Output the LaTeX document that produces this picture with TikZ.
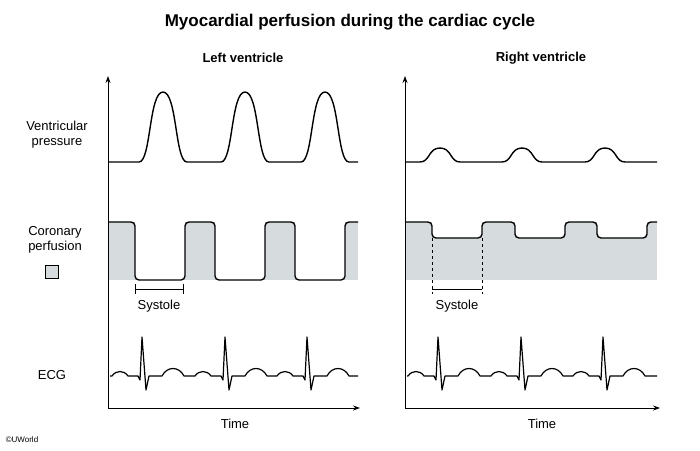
\documentclass[tikz,border=0pt]{standalone}
\usepackage{fontspec}
\setmainfont{Liberation Sans}
\usepackage{xcolor}
\definecolor{perf}{RGB}{214,219,222}
\tikzset{
  curve/.style = {line width = 1.4pt, line join = round},
  axis/.style = {line width = 1pt, -{Stealth[length=7pt,width=5pt]}},
  lbl/.style = {font = \fontsize{13}{15}\selectfont, align = center},
}
\usetikzlibrary{arrows.meta}
\newcommand{\bump}[3]{% center, half width, height
  (#1-#2,162) .. controls (#1-#2/2,162) and (#1-#2/1.7,162-#3) .. (#1,162-#3)
  .. controls (#1+#2/1.7,162-#3) and (#1+#2/2,162) .. (#1+#2,162)}
\newcommand{\ecgbeat}[1]{%
  -- (#1-30,376) .. controls (#1-26,370) and (#1-18,370) .. (#1-14,376)
  -- (#1-4,376) -- (#1-2,380) -- (#1,337) -- (#1+4,390) -- (#1+7,376)
  -- (#1+20,376) .. controls (#1+25,366) and (#1+37,366) .. (#1+42,376)}

\begin{document}
\begin{tikzpicture}[x = 1pt, y = -1pt]

    \useasboundingbox (0,0) rectangle (700,450);

    \node[font = \fontsize{17}{20}\selectfont\bfseries] (title) at (350,22)
        {Myocardial perfusion during the cardiac cycle};
    \node[lbl, font = \fontsize{13}{15}\selectfont\bfseries] (lv) at (243,58) {Left ventricle};
    \node[lbl, font = \fontsize{13}{15}\selectfont\bfseries] (rv) at (541,58) {Right ventricle};

    \node[lbl] (press) at (57,135) {Ventricular\\pressure};
    \node[lbl] (perfl) at (55,240) {Coronary\\perfusion};
    \node[draw, line width = 1pt, fill = perf, minimum size = 13pt, inner sep = 0pt] (key) at (52,272) {};
    \node[lbl] (ecg) at (52,375) {ECG};
    \node[font = \fontsize{8}{9}\selectfont] (copy) at (22,440) {\textcopyright UWorld};

    % Perfusion areas
    \fill[perf] (108,222) rectangle (358,280);
    \fill[perf] (405,222) rectangle (657,280);
    \fill[white, rounded corners = 4pt] (135,218) -- (135,280) -- (185,280) -- (185,218);
    \fill[white, rounded corners = 4pt] (215,218) -- (215,280) -- (265,280) -- (265,218);
    \fill[white, rounded corners = 4pt] (295,218) -- (295,280) -- (345,280) -- (345,218);
    \fill[white, rounded corners = 4pt] (432,218) -- (432,238) -- (482,238) -- (482,218);
    \fill[white, rounded corners = 4pt] (515,218) -- (515,238) -- (565,238) -- (565,218);
    \fill[white, rounded corners = 4pt] (597,218) -- (597,238) -- (647,238) -- (647,218);

    % Axes
    \draw[axis] (108,408) -- (108,76);
    \draw[axis] (108,408) -- (360,408);
    \draw[axis] (405,408) -- (405,76);
    \draw[axis] (405,408) -- (660,408);
    \node[lbl] (tl) at (235,424) {Time};
    \node[lbl] (tr) at (542,424) {Time};

    % Pressure curves
    \draw[curve] (108,162) -- \bump{163}{24}{70} -- \bump{245}{24}{70} -- \bump{325}{24}{70} -- (358,162);
    \draw[curve] (405,162) -- \bump{440}{20}{14} -- \bump{522}{20}{14} -- \bump{605}{20}{14} -- (657,162);

    % Perfusion curves
    \draw[curve, rounded corners = 4pt] (108,222) -- (135,222) -- (135,280) -- (185,280) -- (185,222)
        -- (215,222) -- (215,280) -- (265,280) -- (265,222)
        -- (295,222) -- (295,280) -- (345,280) -- (345,222) -- (358,222);
    \draw[curve, rounded corners = 4pt] (405,222) -- (432,222) -- (432,238) -- (482,238) -- (482,222)
        -- (515,222) -- (515,238) -- (565,238) -- (565,222)
        -- (597,222) -- (597,238) -- (647,238) -- (647,222) -- (657,222);

    % Systole brackets
    \draw[line width = 1pt] (135,284) -- (135,294) (135,289) -- (183,289) (183,284) -- (183,294);
    \node[lbl] (sysl) at (159,306) {Systole};
    \draw[dashed, line width = 0.8pt] (432,238) -- (432,294) (482,238) -- (482,294);
    \draw[line width = 1pt] (432,289) -- (482,289);
    \node[lbl] (sysr) at (457,306) {Systole};

    % ECG
    \draw[curve, line width = 1.2pt] (110,376) \ecgbeat{142} \ecgbeat{225} \ecgbeat{307} -- (358,376);
    \draw[curve, line width = 1.2pt] (407,376) \ecgbeat{438} \ecgbeat{521} \ecgbeat{603} -- (657,376);

\end{tikzpicture}
\end{document}
